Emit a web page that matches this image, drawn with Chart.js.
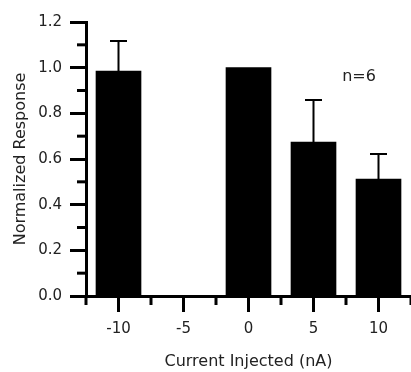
<!DOCTYPE html>
<html>
<head>
<meta charset="utf-8">
<script src="https://cdn.jsdelivr.net/npm/chart.js@4"></script>
<style>
	html, body { margin: 0; padding: 0; background: #fff; }
	#wrap { width: 411px; height: 372px; }
</style>
</head>
<body>
<div id="wrap"><canvas id="myChart"></canvas></div>
<script>
var currents = [-10, -5, 0, 5, 10]
var response = [0.985, 0, 1.0, 0.674, 0.512]
var errUp = [0.132, null, null, 0.184, 0.110]
var yTicks = [0, 0.2, 0.4, 0.6, 0.8, 1.0, 1.2]
var yMinor = [0.1, 0.3, 0.5, 0.7, 0.9, 1.1]
var xTicks = [-10, -5, 0, 5, 10]
var xMinor = [-12.5, -7.5, -2.5, 2.5, 7.5, 12.5]
var note = { x: 8.5, y: 0.96, text: 'n=6' }

var fontName = '"DejaVu Sans", sans-serif'
var textColor = '#222'

// error bars, minor ticks and the n=6 note
var extras = {
	id: 'extras',
	afterDatasetsDraw: function(chart) {
		var c = chart.ctx
		var xs = chart.scales.x
		var ys = chart.scales.y
		c.save()
		c.strokeStyle = '#000'
		c.lineWidth = 2
		for (var i = 0; i < currents.length; i++) {
			if (errUp[i] == null) continue
			var px = xs.getPixelForValue(currents[i])
			var top = ys.getPixelForValue(response[i] + errUp[i])
			var base = ys.getPixelForValue(response[i])
			c.beginPath()
			c.moveTo(px, base)
			c.lineTo(px, top)
			c.moveTo(px - 8.5, top)
			c.lineTo(px + 8.5, top)
			c.stroke()
		}
		c.lineWidth = 3
		var left = chart.chartArea.left
		yMinor.forEach(function(v) {
			var py = ys.getPixelForValue(v)
			c.beginPath()
			c.moveTo(left - 9, py)
			c.lineTo(left, py)
			c.stroke()
		})
		var bottom = chart.chartArea.bottom
		xMinor.forEach(function(v) {
			var px = xs.getPixelForValue(v)
			c.beginPath()
			c.moveTo(px, bottom)
			c.lineTo(px, bottom + 9)
			c.stroke()
		})
		c.fillStyle = textColor
		c.font = '16px ' + fontName
		c.textAlign = 'center'
		c.textBaseline = 'middle'
		c.fillText(note.text, xs.getPixelForValue(note.x), ys.getPixelForValue(note.y))
		c.restore()
	}
}

var ctx = document.getElementById('myChart')
var chart = new Chart(ctx, {
	type: 'bar',
	data: {
		datasets: [{
			data: currents.map(function(x, i) { return { x: x, y: response[i] } }),
			backgroundColor: '#000',
			borderWidth: 0,
			barThickness: 45,
		}]
	},
	options: {
		responsive: true,
		maintainAspectRatio: false,
		animation: false,
		layout: { padding: { top: 22, right: 0, left: 0, bottom: 0 } },
		plugins: {
			legend: { display: false },
			tooltip: { enabled: false },
		},
		scales: {
			x: {
				type: 'linear',
				min: -12.5,
				max: 12.5,
				offset: false,
				afterBuildTicks: function(scale) {
					scale.ticks = xTicks.map(function(v) { return { value: v } })
				},
				afterFit: function(scale) { scale.height = 76 },
				grid: { drawOnChartArea: false, offset: false, tickLength: 16, tickWidth: 3, tickColor: '#000' },
				border: { color: '#000', width: 3 },
				ticks: { color: textColor, padding: 8, maxRotation: 0, font: { family: fontName, size: 15 } },
				title: { display: true, text: 'Current Injected (nA)', color: textColor, padding: { top: 0, bottom: 1 }, font: { family: fontName, size: 16 } },
			},
			y: {
				min: 0,
				max: 1.2,
				afterBuildTicks: function(scale) {
					scale.ticks = yTicks.map(function(v) { return { value: v } })
				},
				afterFit: function(scale) { scale.width = 86 },
				grid: { drawOnChartArea: false, tickLength: 16, tickWidth: 3, tickColor: '#000' },
				border: { color: '#000', width: 3 },
				ticks: {
					color: textColor, padding: 8, font: { family: fontName, size: 15 },
					callback: function(v) { return v.toFixed(1) },
				},
				title: { display: true, text: 'Normalized Response', color: textColor, padding: { top: 11, bottom: 0 }, font: { family: fontName, size: 16 } },
			}
		}
	},
	plugins: [extras]
})
</script>
</body>
</html>
